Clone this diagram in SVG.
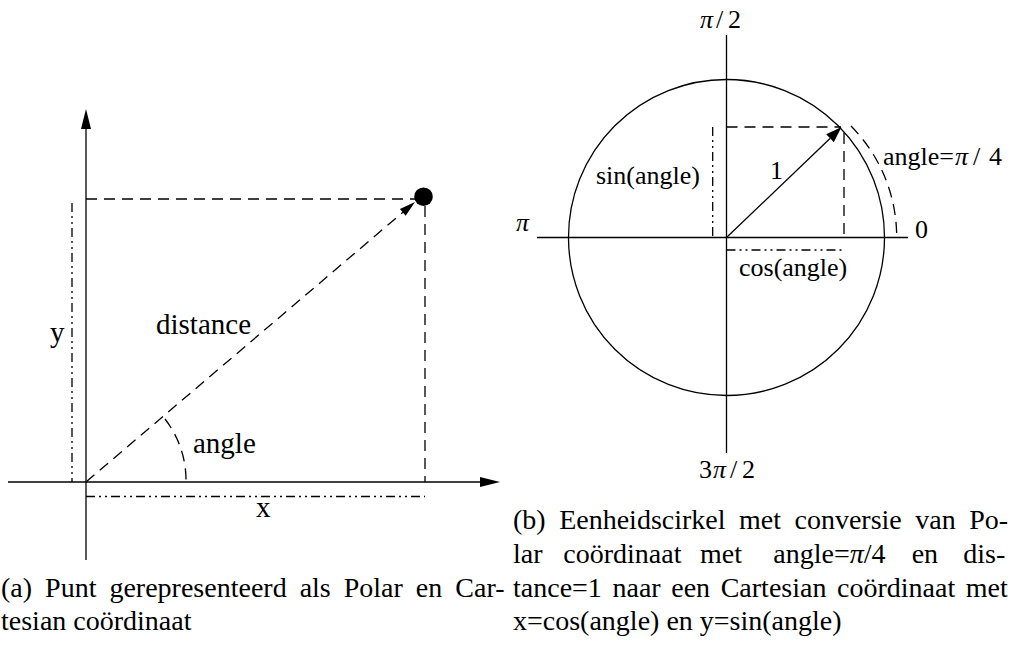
<svg xmlns="http://www.w3.org/2000/svg" width="1011" height="646" viewBox="0 0 1011 646">
<style>
.ln{fill:none;stroke:#000;stroke-width:1.3}
.dash{fill:none;stroke:#000;stroke-width:1.3;stroke-dasharray:11 7}
.dd{fill:none;stroke:#000;stroke-width:1.3;stroke-dasharray:9 4 2 4 2 4}
.ah{fill:#000;stroke:none}
.t{font-family:"Liberation Serif","Times New Roman",serif;fill:#000}
.la{font-size:29px}
.lb{font-size:26px}
.cap{font-size:28px}
</style>
<rect width="1011" height="646" fill="#fff"/>
<g id="connectors">
  <line class="ln" x1="86" y1="560" x2="86" y2="125"/>
  <polygon class="ah" points="86,109 81,129 91,129"/>
  <line class="ln" x1="8" y1="482" x2="484" y2="482"/>
  <polygon class="ah" points="500,482 480,477 480,487"/>
  <line class="dash" x1="86" y1="199" x2="416" y2="199"/>
  <line class="dash" x1="425" y1="206" x2="425" y2="482"/>
  <line class="dd" x1="72" y1="203" x2="72" y2="482"/>
  <line class="dd" x1="86" y1="496.5" x2="425" y2="496.5"/>
  <line class="dash" x1="86" y1="482" x2="402.8" y2="212.3"/>
  <polygon class="ah" points="415,202 405.7,215.7 399.9,208.9"/>
  <path class="dash" d="M165,419 A100,100 0 0 1 186,482"/>
  <line class="ln" x1="726.5" y1="35" x2="726.5" y2="453"/>
  <line class="ln" x1="537" y1="237.5" x2="908" y2="237.5"/>
  <circle class="ln" cx="726.5" cy="237.5" r="158"/>
  <line class="dash" x1="726.5" y1="127" x2="841" y2="127"/>
  <line class="dash" x1="844" y1="133" x2="844" y2="237.5"/>
  <line class="dd" x1="712.7" y1="127" x2="712.7" y2="237.5"/>
  <line class="dd" x1="726.5" y1="250" x2="842" y2="250"/>
  <line class="ln" x1="726.5" y1="237.5" x2="830" y2="138.5"/>
  <polygon class="ah" points="841.5,127 833.8,142.3 826.2,134.3"/>
  <path class="dash" d="M851,126 A158,158 0 0 1 896.7,237.5"/>
</g>
<g id="point">
  <circle cx="423.5" cy="196.7" r="9.3" fill="#000"/>
</g>
<g id="labels-a" class="t la">
  <text x="50" y="342">y</text>
  <text x="156" y="334">distance</text>
  <text x="193" y="453">angle</text>
  <text x="256" y="517">x</text>
</g>
<g id="labels-b" class="t lb">
  <text y="28"><tspan x="700" font-style="italic">π</tspan><tspan x="716">/</tspan><tspan x="728">2</tspan></text>
  <text y="478"><tspan x="699">3</tspan><tspan x="713" font-style="italic">π</tspan><tspan x="730">/</tspan><tspan x="742">2</tspan></text>
  <text x="516" y="231" font-style="italic">π</text>
  <text x="915" y="238">0</text>
  <text y="165"><tspan x="883">angle=</tspan><tspan x="955" font-style="italic">π</tspan><tspan x="973">/</tspan><tspan x="989">4</tspan></text>
  <text x="770" y="179">1</text>
  <text x="596" y="184">sin(angle)</text>
  <text x="739" y="276">cos(angle)</text>
</g>
<g id="caption-a" class="t cap">
  <text x="1" y="597" word-spacing="6">(a) Punt gerepresenteerd als Polar en Car-</text>
  <text x="1" y="630">tesian coördinaat</text>
</g>
<g id="caption-b" class="t cap">
  <text x="513" y="529" word-spacing="6.5">(b) Eenheidscirkel met conversie van Po-</text>
  <text y="563"><tspan x="513">lar</tspan> <tspan x="563.3">coördinaat</tspan> <tspan x="700">met</tspan> <tspan x="773.3">angle=<tspan font-style="italic">π</tspan>/4</tspan> <tspan x="911.7">en</tspan> <tspan x="963.3">dis-</tspan></text>
  <text x="513" y="597" word-spacing="3.6">tance=1 naar een Cartesian coördinaat met</text>
  <text x="513" y="630">x=cos(angle) en y=sin(angle)</text>
</g>
</svg>
